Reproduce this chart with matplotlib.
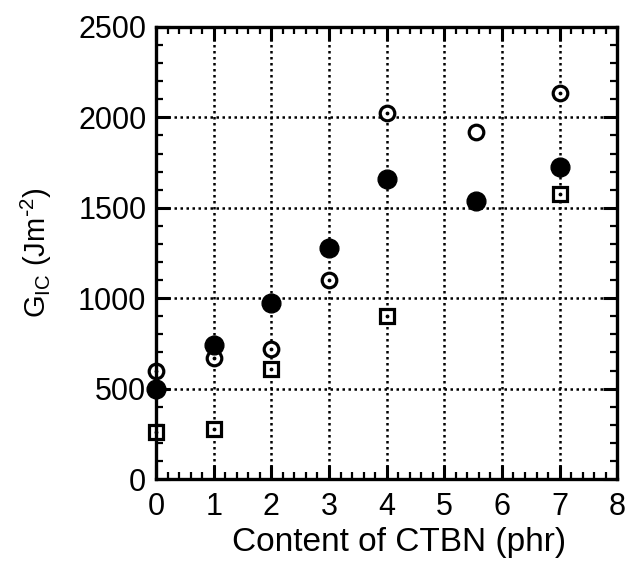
import matplotlib
matplotlib.use("Agg")
import matplotlib.pyplot as plt
from matplotlib.ticker import MultipleLocator

plt.rcParams['font.family'] = ['Liberation Sans', 'DejaVu Sans']

# open circles (with centre dot)
ctbn_open = [0, 1, 2, 3, 4, 5.55, 7]
gic_open = [595, 667, 722, 1100, 2022, 1920, 2135]
# filled circles
ctbn_fill = [0, 1, 2, 3, 4, 5.55, 7]
gic_fill = [500, 744, 972, 1278, 1660, 1535, 1727]
# open squares
ctbn_sq = [0, 1, 2, 4, 7]
gic_sq = [261, 278, 611, 900, 1575]

fig = plt.figure(figsize=(6.37, 5.61), dpi=100)
ax = fig.add_axes([0.245, 0.146, 0.724, 0.806])

ax.grid(True, which='major', linestyle=(0, (1, 1.4)), color='black', linewidth=1.8)
ax.set_axisbelow(True)

ax.plot(ctbn_open, gic_open, 'o', ms=10.5, mfc='white', mec='black', mew=2.3, clip_on=False)
# the point at 5.55 has no centre dot
ctbn_dot = [x for x in ctbn_open if x != 5.55]
gic_dot = [y for x, y in zip(ctbn_open, gic_open) if x != 5.55]
ax.plot(ctbn_dot, gic_dot, '.', ms=3.5, color='black', clip_on=False)
ax.plot(ctbn_fill, gic_fill, 'o', ms=13.5, color='black', clip_on=False)
ax.plot(ctbn_sq, gic_sq, 's', ms=10.5, mfc='white', mec='black', mew=2.3, clip_on=False)
ax.plot(ctbn_sq, gic_sq, '.', ms=3.5, color='black', clip_on=False)

ax.set_xlim(0, 8)
ax.set_ylim(0, 2500)
ax.xaxis.set_major_locator(MultipleLocator(1))
ax.xaxis.set_minor_locator(MultipleLocator(0.2))
ax.yaxis.set_major_locator(MultipleLocator(500))
ax.yaxis.set_minor_locator(MultipleLocator(100))
ax.tick_params(which='both', direction='in', top=True, right=True, labelsize=22)
ax.tick_params(axis='x', which='both', pad=9)
ax.tick_params(axis='y', which='both', pad=7)
ax.tick_params(which='major', length=10, width=2.2)
ax.tick_params(which='minor', length=5, width=1.6)
for s in ax.spines.values():
    s.set_linewidth(2.4)

ax.set_xlabel('Content of CTBN (phr)', fontsize=24, labelpad=2)
ax.xaxis.set_label_coords(0.526, -0.105)
ax.set_ylabel(r'G$_{\mathregular{IC}}$ (Jm$^{\mathregular{\text{-}2}}$)', fontsize=21, labelpad=17)

fig.savefig('out.png', dpi=100)
